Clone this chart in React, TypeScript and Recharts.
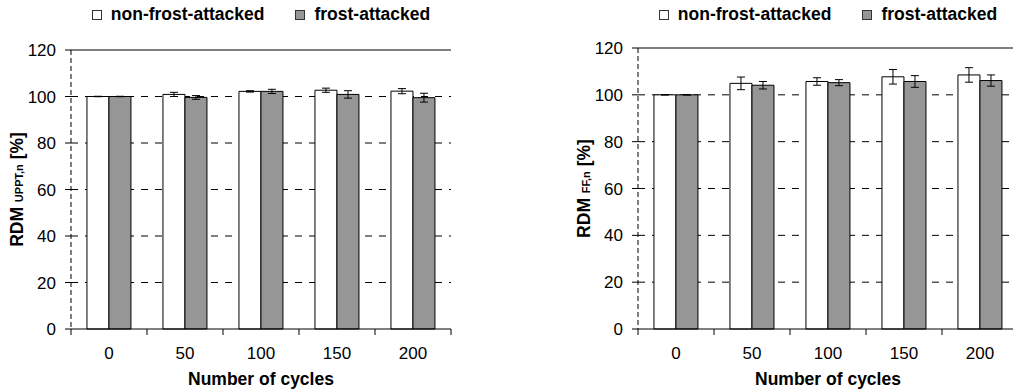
import React from 'react';
import {
  BarChart,
  Bar,
  XAxis,
  YAxis,
  CartesianGrid,
  ErrorBar,
  Legend,
  ReferenceLine,
} from 'recharts';

// values
const cycles = ['0', '50', '100', '150', '200'];

const upptNonFrost = [100, 100.9, 102.2, 102.7, 102.3];
const upptNonFrostErr = [0.1, 0.9, 0.3, 0.9, 1.1];
const upptFrost = [100, 99.6, 102.2, 100.9, 99.5];
const upptFrostErr = [0.1, 0.8, 0.9, 1.6, 1.9];

const ffNonFrost = [100, 104.9, 105.7, 107.7, 108.5];
const ffNonFrostErr = [0.1, 2.7, 1.6, 3.1, 3.1];
const ffFrost = [100, 104.1, 105.2, 105.7, 106.1];
const ffFrostErr = [0.1, 1.6, 1.3, 2.5, 2.4];

const yTicks = [0, 20, 40, 60, 80, 100, 120];
const gridValues = [20, 40, 60, 80, 100];

const FONT = '"Liberation Sans", Arial, sans-serif';

const buildRows = (nf: number[], nfErr: number[], f: number[], fErr: number[]) =>
  cycles.map((c, i) => ({ cycle: c, nf: nf[i], nfErr: nfErr[i], f: f[i], fErr: fErr[i] }));

const LegendBox = () => (
  <div
    style={{
      display: 'flex',
      justifyContent: 'center',
      alignItems: 'center',
      fontFamily: FONT,
      fontWeight: 'bold',
      fontSize: 17.5,
      color: '#000',
    }}
  >
    <span style={{ width: 8, height: 8, border: '1px solid #333', background: '#fff', marginRight: 9 }} />
    <span style={{ marginRight: 31 }}>non-frost-attacked</span>
    <span style={{ width: 8, height: 8, border: '1px solid #333', background: '#969696', marginRight: 9 }} />
    <span>frost-attacked</span>
  </div>
);

interface PanelProps {
  left: number;
  width: number;
  marginTop: number;
  marginRight: number;
  axisWidth: number;
  sub: string;
  rows: ReturnType<typeof buildRows>;
}

const Panel: React.FC<PanelProps> = ({ left, width, marginTop, marginRight, axisWidth, sub, rows }) => {
  const plotWidth = width - marginRight - axisWidth;
  const band = plotWidth / cycles.length;

  // label in the middle of the band, tick marks on the band edges
  const renderTick = (p: any) => {
    const x = Number(p.x);
    const y = Number(p.y);
    const i = Number(p.index);
    const x0 = x - band / 2;
    const x1 = x + band / 2;
    const d = `M${x0},${y}L${x0},${y + 6}` + (i === cycles.length - 1 ? `M${x1},${y}L${x1},${y + 6}` : '');
    return (
      <g>
        <path d={d} stroke="#000" strokeWidth={1} fill="none" />
        <text x={x} y={y + 18} dy="0.71em" textAnchor="middle" fontSize={17} fontFamily={FONT} fill="#000">
          {p.payload.value}
        </text>
      </g>
    );
  };

  const renderYLabel = (p: any) => {
    const vb = p.viewBox || {};
    const bx = vb.x + vb.width - 48;
    const cy = vb.y + vb.height / 2;
    return (
      <text
        transform={`translate(${bx}, ${cy}) rotate(-90)`}
        x={0}
        y={0}
        textAnchor="middle"
        fontFamily={FONT}
        fontWeight="bold"
        fill="#000"
      >
        <tspan fontSize={17.5}>RDM </tspan>
        <tspan fontSize={11}>{sub}</tspan>
        <tspan fontSize={17.5}> [%]</tspan>
      </text>
    );
  };

  return (
    <div style={{ position: 'absolute', left, top: 0 }}>
      <BarChart
        width={width}
        height={391}
        data={rows}
        margin={{ top: marginTop, right: marginRight, bottom: 0, left: 0 }}
        barCategoryGap="21%"
        barGap={0}
      >
        <CartesianGrid vertical={false} horizontalValues={gridValues} stroke="#000" strokeDasharray="7 7" />
        <XAxis
          dataKey="cycle"
          height={62}
          tickLine={false}
          tickSize={0}
          tickMargin={0}
          axisLine={{ stroke: '#000' }}
          tick={renderTick}
          interval={0}
          label={{
            value: 'Number of cycles',
            position: 'insideBottom',
            offset: 6,
            fontFamily: FONT,
            fontWeight: 'bold',
            fontSize: 17.5,
            fill: '#000',
          }}
        />
        <YAxis
          width={axisWidth}
          domain={[0, 120]}
          ticks={yTicks}
          tickSize={6}
          tickMargin={9}
          tickLine={{ stroke: '#000' }}
          axisLine={{ stroke: '#000', strokeDasharray: '5 3' }}
          tick={{ fontSize: 17, fontFamily: FONT, fill: '#000' }}
          label={{ content: renderYLabel }}
        />
        <YAxis
          yAxisId="frame"
          orientation="right"
          width={0}
          domain={[0, 120]}
          tick={false}
          tickLine={false}
          axisLine={{ stroke: '#000' }}
        />
        <ReferenceLine y={120} stroke="#000" strokeWidth={1} />
        <Legend
          layout="horizontal"
          verticalAlign="middle"
          align="center"
          wrapperStyle={{ top: 4, left: axisWidth, width: plotWidth }}
          content={() => <LegendBox />}
        />
        <Bar dataKey="nf" fill="#ffffff" stroke="#000" strokeWidth={1} isAnimationActive={false}>
          <ErrorBar dataKey="nfErr" width={4} stroke="#000" strokeWidth={1} />
        </Bar>
        <Bar dataKey="f" fill="#969696" stroke="#000" strokeWidth={1} isAnimationActive={false}>
          <ErrorBar dataKey="fErr" width={4} stroke="#000" strokeWidth={1} />
        </Bar>
      </BarChart>
    </div>
  );
};

export default function App() {
  const upptRows = buildRows(upptNonFrost, upptNonFrostErr, upptFrost, upptFrostErr);
  const ffRows = buildRows(ffNonFrost, ffNonFrostErr, ffFrost, ffFrostErr);
  return (
    <div
      style={{
        position: 'fixed',
        left: 0,
        top: 0,
        width: 1013,
        height: 391,
        overflow: 'hidden',
        background: '#fff',
      }}
    >
      <Panel left={0} width={500} marginTop={50} marginRight={49} axisWidth={71} sub="UPPT,n" rows={upptRows} />
      <Panel left={500} width={520} marginTop={48} marginRight={2} axisWidth={138} sub="FF,n" rows={ffRows} />
    </div>
  );
}
